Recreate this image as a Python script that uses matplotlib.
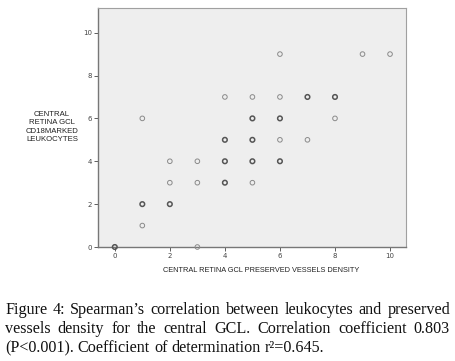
import matplotlib
matplotlib.use("Agg")
import matplotlib.pyplot as plt

# ==========================
# Data
# ==========================

vessels = [0, 1, 1, 1, 2, 2, 2, 3, 3, 3, 4, 4, 4, 4, 5, 5, 5, 5, 5,
           6, 6, 6, 6, 6, 7, 7, 8, 8, 9, 10]
leukocytes = [0, 6, 2, 1, 4, 3, 2, 4, 3, 0, 7, 5, 4, 3, 7, 6, 5, 4, 3,
              9, 7, 6, 5, 4, 7, 5, 7, 6, 9, 9]
# overlapping cases per point (darker rings)
counts = [2, 1, 2, 1, 1, 1, 2, 1, 1, 1, 1, 2, 2, 2, 1, 2, 2, 2, 1,
          1, 1, 2, 1, 2, 2, 1, 2, 1, 1, 1]

caption_lines = [
    "Figure 4: Spearman’s correlation between leukocytes and preserved",
    "vessels density for the central GCL. Correlation coefficient 0.803",
    "(P<0.001). Coefficient of determination r²=0.645.",
]

# ==========================
# Figure
# ==========================

W, H = 455, 361
fig = plt.figure(figsize=(W / 100, H / 100), dpi=100)
ax = fig.add_axes([98 / W, 1 - 247 / H, 308 / W, 239 / H])
ax.set_facecolor("#eeeeee")

for x, y, c in zip(vessels, leukocytes, counts):
    col = "#555555" if c > 1 else "#8a8a8a"
    lw = 1.1 if c > 1 else 0.7
    ax.scatter([x], [y], s=11, facecolors="none", edgecolors=col,
               linewidths=lw, zorder=3, clip_on=False)

ax.set_xlim(-0.61, 10.58)
ax.set_ylim(0, 11.15)
ax.set_xticks([0, 2, 4, 6, 8, 10])
ax.set_yticks([0, 2, 4, 6, 8, 10])
ax.tick_params(labelsize=5, colors="#444444", length=3, width=0.6, pad=1.5)

for side in ["top", "right"]:
    ax.spines[side].set_color("#a0a0a0")
    ax.spines[side].set_linewidth(0.8)
for side in ["left", "bottom"]:
    ax.spines[side].set_color("#777777")
    ax.spines[side].set_linewidth(1.0)

fig.text(261 / W, 1 - 270 / H, "CENTRAL RETINA GCL PRESERVED VESSELS DENSITY",
         ha="center", va="center", fontsize=5.3, color="#222222",
         family="Liberation Sans")
fig.text(52 / W, 1 - 127 / H, "CENTRAL\nRETINA GCL\nCD18MARKED\nLEUKOCYTES",
         ha="center", va="center", fontsize=5.6, color="#222222",
         family="Liberation Sans", linespacing=1.25)

# ==========================
# Caption (justified)
# ==========================

fig.canvas.draw()
renderer = fig.canvas.get_renderer()
left, right = 5, 450
baselines = [314, 333, 352]
fs = 11.6

for i, (line, yp) in enumerate(zip(caption_lines, baselines)):
    words = line.split(" ")
    texts = []
    widths = []
    for w in words:
        t = fig.text(0, 1 - yp / H, w, fontsize=fs, family="Liberation Serif",
                     color="#111111", va="baseline", ha="left")
        widths.append(t.get_window_extent(renderer).width)
        texts.append(t)
    if i < len(caption_lines) - 1:
        gap = (right - left - sum(widths)) / (len(words) - 1)
    else:
        space = fig.text(0, 0, "a a", fontsize=fs, family="Liberation Serif")
        sa = fig.text(0, 0, "aa", fontsize=fs, family="Liberation Serif")
        gap = (space.get_window_extent(renderer).width
               - sa.get_window_extent(renderer).width)
        space.remove()
        sa.remove()
    xp = left
    for t, wd in zip(texts, widths):
        t.set_x(xp / W)
        xp += wd + gap

fig.savefig("out.png", dpi=100)
